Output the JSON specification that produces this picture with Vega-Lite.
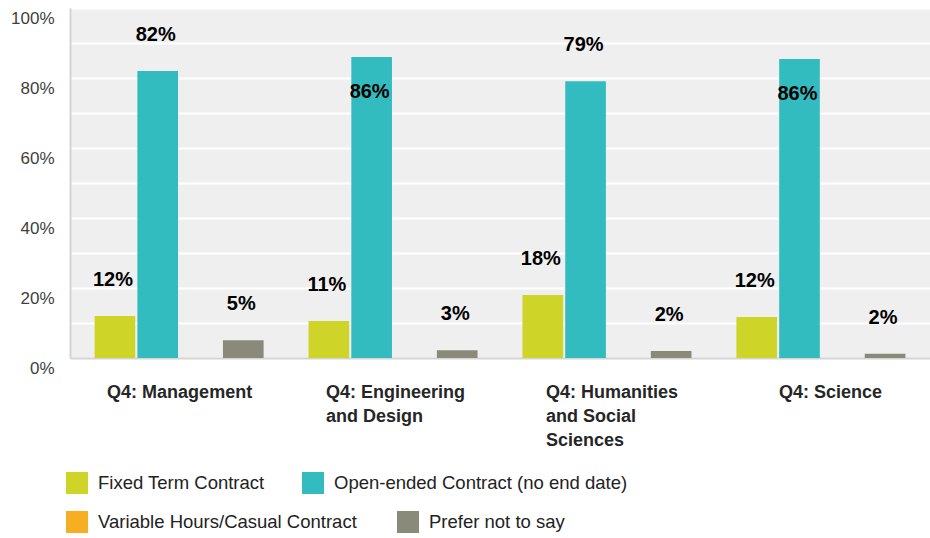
{
  "$schema": "https://vega.github.io/schema/vega-lite/v6.json",
  "width": 860,
  "height": 350,
  "autosize": {"type": "none"},
  "padding": {"left": 70, "top": 8, "right": 0, "bottom": 180},
  "background": "white",
  "config": {"view": {"fill": "#efefef", "stroke": null}, "font": "Liberation Sans"},
  "data": {
    "values": [
      {"cat": "Q4: Management", "series": "Fixed Term Contract", "pct": 12, "label": "12%"},
      {"cat": "Q4: Management", "series": "Open-ended Contract (no end date)", "pct": 82, "label": "82%"},
      {"cat": "Q4: Management", "series": "Variable Hours/Casual Contract", "pct": 0, "label": ""},
      {"cat": "Q4: Management", "series": "Prefer not to say", "pct": 5.1, "label": "5%"},
      {"cat": "Q4: Engineering and Design", "series": "Fixed Term Contract", "pct": 10.6, "label": "11%"},
      {"cat": "Q4: Engineering and Design", "series": "Open-ended Contract (no end date)", "pct": 86, "label": "86%"},
      {"cat": "Q4: Engineering and Design", "series": "Variable Hours/Casual Contract", "pct": 0, "label": ""},
      {"cat": "Q4: Engineering and Design", "series": "Prefer not to say", "pct": 2.2, "label": "3%"},
      {"cat": "Q4: Humanities and Social Sciences", "series": "Fixed Term Contract", "pct": 18, "label": "18%"},
      {"cat": "Q4: Humanities and Social Sciences", "series": "Open-ended Contract (no end date)", "pct": 79.1, "label": "79%"},
      {"cat": "Q4: Humanities and Social Sciences", "series": "Variable Hours/Casual Contract", "pct": 0, "label": ""},
      {"cat": "Q4: Humanities and Social Sciences", "series": "Prefer not to say", "pct": 2, "label": "2%"},
      {"cat": "Q4: Science", "series": "Fixed Term Contract", "pct": 11.7, "label": "12%"},
      {"cat": "Q4: Science", "series": "Open-ended Contract (no end date)", "pct": 85.4, "label": "86%"},
      {"cat": "Q4: Science", "series": "Variable Hours/Casual Contract", "pct": 0, "label": ""},
      {"cat": "Q4: Science", "series": "Prefer not to say", "pct": 1.2, "label": "2%"}
    ]
  },
  "encoding": {
    "x": {
      "field": "cat",
      "type": "nominal",
      "sort": ["Q4: Management", "Q4: Engineering and Design", "Q4: Humanities and Social Sciences", "Q4: Science"],
      "scale": {"paddingInner": 0.2, "paddingOuter": 0.11},
      "axis": {
        "title": null,
        "ticks": false,
        "labels": false,
        "domainColor": "#d4d4d4",
        "domainWidth": 2
      }
    },
    "y": {
      "field": "pct",
      "type": "quantitative",
      "scale": {"domain": [0, 100], "nice": false},
      "axis": {
        "title": null,
        "values": [0, 10, 20, 30, 40, 50, 60, 70, 80, 90, 100],
        "labelExpr": "datum.value % 20 == 0 ? datum.value + '%' : ''",
        "grid": true,
        "gridColor": "#ffffff",
        "gridWidth": 2,
        "ticks": false,
        "domainColor": "#d4d4d4",
        "domainWidth": 2,
        "labelFontSize": 17,
        "labelColor": "#404040",
        "labelPadding": 16,
        "labelOffset": 10
      }
    }
  },
  "layer": [
    {
      "mark": {"type": "bar"},
      "encoding": {
        "xOffset": {
          "field": "series",
          "type": "nominal",
          "scale": {"domain": ["Fixed Term Contract", "Open-ended Contract (no end date)", "Variable Hours/Casual Contract", "Prefer not to say"], "paddingInner": 0.05, "paddingOuter": 0.025}
        },
        "fill": {
          "field": "series",
          "type": "nominal",
          "scale": {
            "domain": ["Fixed Term Contract", "Open-ended Contract (no end date)", "Variable Hours/Casual Contract", "Prefer not to say"],
            "range": ["#cfd428", "#33bcbf", "#f8ae22", "#8a8a7a"]
          },
          "legend": {
            "title": null,
            "values": ["Fixed Term Contract", "Open-ended Contract (no end date)"],
            "orient": "none",
            "legendX": -4,
            "legendY": 464,
            "direction": "horizontal",
            "columnPadding": 37,
            "symbolType": "square",
            "symbolSize": 484,
            "symbolStrokeWidth": 0,
            "symbolOpacity": 1,
            "labelFontSize": 18.5,
            "labelColor": "#222222",
            "labelOffset": 10,
            "labelLimit": 400
          }
        }
      }
    },
    {
      "transform": [{"filter": "datum.pct == 0"}],
      "mark": {"type": "bar"},
      "encoding": {
        "xOffset": {
          "field": "series",
          "type": "nominal",
          "scale": {"domain": ["Fixed Term Contract", "Open-ended Contract (no end date)", "Variable Hours/Casual Contract", "Prefer not to say"]}
        },
        "color": {
          "field": "series",
          "type": "nominal",
          "scale": {
            "domain": ["Variable Hours/Casual Contract", "Prefer not to say"],
            "range": ["#f8ae22", "#8a8a7a"]
          },
          "legend": {
            "title": null,
            "orient": "none",
            "legendX": -4,
            "legendY": 503,
            "direction": "horizontal",
            "columnPadding": 40,
            "symbolType": "square",
            "symbolSize": 484,
            "symbolStrokeWidth": 0,
            "symbolOpacity": 1,
            "labelFontSize": 18.5,
            "labelColor": "#222222",
            "labelOffset": 10,
            "labelLimit": 400
          }
        }
      }
    },
    {
      "transform": [{"filter": "datum.pct > 0 && datum.pct < 84"}],
      "mark": {"type": "text", "dy": -36, "dx": -2, "baseline": "middle", "fontSize": 20, "fontWeight": "bold", "color": "#000000"},
      "encoding": {
        "xOffset": {
          "field": "series",
          "type": "nominal",
          "scale": {"domain": ["Fixed Term Contract", "Open-ended Contract (no end date)", "Variable Hours/Casual Contract", "Prefer not to say"]}
        },
        "text": {"field": "label"}
      }
    },
    {
      "transform": [{"filter": "datum.pct >= 84"}],
      "mark": {"type": "text", "dy": 35, "dx": -2, "baseline": "middle", "fontSize": 20, "fontWeight": "bold", "color": "#000000"},
      "encoding": {
        "xOffset": {
          "field": "series",
          "type": "nominal",
          "scale": {"domain": ["Fixed Term Contract", "Open-ended Contract (no end date)", "Variable Hours/Casual Contract", "Prefer not to say"]}
        },
        "text": {"field": "label"}
      }
    },
    {
      "transform": [{"filter": "datum.cat == 'Q4: Management' && datum.series == 'Fixed Term Contract'"}],
      "mark": {"type": "text", "text": "Q4: Management", "align": "left", "baseline": "top", "dx": -72, "dy": 26, "lineHeight": 24, "fontSize": 18, "fontWeight": "bold", "color": "#262626"},
      "encoding": {"y": {"datum": 0}}
    },
    {
      "transform": [{"filter": "datum.cat == 'Q4: Engineering and Design' && datum.series == 'Fixed Term Contract'"}],
      "mark": {"type": "text", "text": ["Q4: Engineering", "and Design"], "align": "left", "baseline": "top", "dx": -67, "dy": 26, "lineHeight": 24, "fontSize": 18, "fontWeight": "bold", "color": "#262626"},
      "encoding": {"y": {"datum": 0}}
    },
    {
      "transform": [{"filter": "datum.cat == 'Q4: Humanities and Social Sciences' && datum.series == 'Fixed Term Contract'"}],
      "mark": {"type": "text", "text": ["Q4: Humanities", "and Social", "Sciences"], "align": "left", "baseline": "top", "dx": -61, "dy": 26, "lineHeight": 24, "fontSize": 18, "fontWeight": "bold", "color": "#262626"},
      "encoding": {"y": {"datum": 0}}
    },
    {
      "transform": [{"filter": "datum.cat == 'Q4: Science' && datum.series == 'Fixed Term Contract'"}],
      "mark": {"type": "text", "text": "Q4: Science", "align": "left", "baseline": "top", "dx": -42, "dy": 26, "lineHeight": 24, "fontSize": 18, "fontWeight": "bold", "color": "#262626"},
      "encoding": {"y": {"datum": 0}}
    }
  ]
}
